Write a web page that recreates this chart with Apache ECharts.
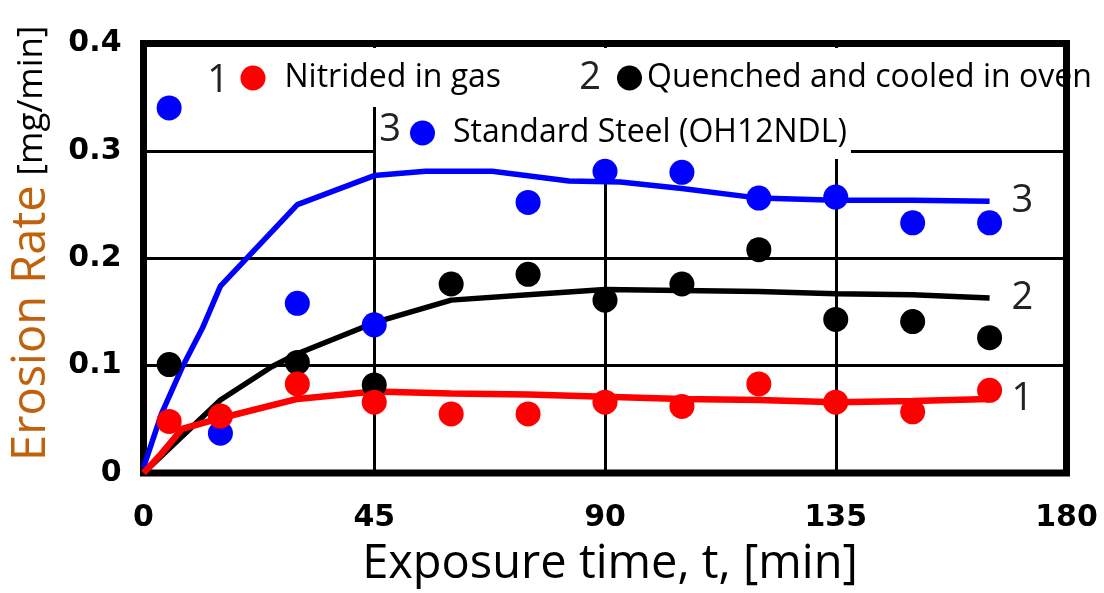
<!DOCTYPE html>
<html><head><meta charset="utf-8">
<script src="https://cdn.jsdelivr.net/npm/echarts@6/dist/echarts.min.js"></script>
<style>html,body{margin:0;padding:0;background:#fff}#c{width:1104px;height:593px}</style>
</head><body><div id="c"></div>
<script>
// ---- data ----
const xTickValues = [0, 45, 90, 135, 180];
const xTickLabels = ['0', '45', '90', '135', '180'];
const yTickValues = [0, 0.1, 0.2, 0.3, 0.4];
const yTickLabels = ['0', '0.1', '0.2', '0.3', '0.4'];
const seriesNames = ['Nitrided in gas', 'Quenched and cooled in oven', 'Standard Steel (OH12NDL)'];
const curveNumbers = ['1', '2', '3'];
const xAxisTitle = 'Exposure time, t, [min]';
const yAxisTitle = 'Erosion Rate';
const yAxisUnit = '[mg/min]';

// measured points [time, erosion rate]
const nitridedPoints = [[5,0.048],[15,0.053],[30,0.083],[45,0.066],[60,0.055],[75,0.055],[90,0.066],[105,0.062],[120,0.083],[135,0.066],[150,0.057],[165,0.077]];
const quenchedPoints = [[5,0.101],[30,0.103],[45,0.082],[60,0.176],[75,0.185],[90,0.161],[105,0.176],[120,0.208],[135,0.143],[150,0.141],[165,0.126]];
const standardPoints = [[5,0.340],[15,0.037],[30,0.158],[45,0.138],[75,0.252],[90,0.281],[105,0.280],[120,0.256],[135,0.257],[150,0.233],[165,0.233]];

// fitted curves
const nitridedFit = [[0,0],[3.5,0.018],[7.5,0.041],[15,0.051],[30,0.069],[45,0.076],[60,0.074],[75,0.073],[90,0.071],[105,0.069],[120,0.068],[135,0.066],[150,0.067],[165,0.069]];
const quenchedFit = [[0,0],[15,0.068],[25,0.099],[30,0.111],[45,0.140],[60,0.161],[75,0.166],[90,0.171],[105,0.170],[120,0.169],[135,0.167],[150,0.166],[165,0.163]];
const standardFit = [[0,0.005],[3.5,0.055],[7.5,0.098],[11.5,0.135],[15,0.174],[30,0.250],[45,0.277],[55,0.281],[68,0.281],[83,0.272],[93,0.271],[105,0.265],[120,0.256],[135,0.254],[150,0.254],[165,0.253]];

// ---- chart ----
const RED = '#ff0000', BLACK = '#000000', BLUE = '#0000ff';
const TXT = 'Open Sans';
const chart = echarts.init(document.getElementById('c'), null, {renderer: 'canvas'});

function fitSeries(data, color, width, num) {
  return {
    type: 'line', data: data, symbol: 'none', silent: true, z: 2,
    lineStyle: {color: color, width: width}, itemStyle: {color: color},
    endLabel: {show: true, formatter: num, distance: 22, fontFamily: TXT, fontSize: 38, color: '#222'}
  };
}
function pointSeries(name, data, color) {
  return {
    type: 'scatter', name: name, data: data, symbol: 'circle', symbolSize: 25, z: 3,
    itemStyle: {color: color, opacity: 1}
  };
}
function legendFor(name, left, top, gap) {
  return {
    data: [name], left: left, top: top, padding: 0, itemWidth: 25, itemHeight: 25,
    icon: 'circle', selectedMode: false,
    textStyle: {fontFamily: TXT, fontSize: 32, color: '#000', padding: [0, 0, 0, gap]}
  };
}

chart.setOption({
  animation: false,
  backgroundColor: '#fff',
  grid: {left: 143.5, right: 37.5, top: 43.5, bottom: 116, show: true, borderColor: '#000', borderWidth: 7},
  xAxis: {
    type: 'value', min: 0, max: 180, interval: 45,
    axisLine: {show: false}, axisTick: {show: false},
    splitLine: {show: true, lineStyle: {color: '#000', width: 3}},
    axisLabel: {
      margin: 30, fontFamily: 'DejaVu Sans', fontWeight: 'bold', fontSize: 30, color: '#000',
      formatter: v => xTickLabels[xTickValues.indexOf(v)]
    },
    name: xAxisTitle, nameLocation: 'middle', nameGap: 68,
    nameTextStyle: {fontFamily: TXT, fontSize: 47, color: '#000', padding: [0, 0, 0, 10]}
  },
  yAxis: {
    type: 'value', min: 0, max: 0.4, interval: 0.1,
    axisLine: {show: false}, axisTick: {show: false},
    splitLine: {show: true, lineStyle: {color: '#000', width: 3}},
    axisLabel: {
      margin: 22, fontFamily: 'DejaVu Sans', fontWeight: 'bold', fontSize: 30, color: '#000',
      formatter: v => yTickLabels[yTickValues.findIndex(t => Math.abs(t - v) < 1e-9)]
    },
    name: '{a|' + yAxisTitle + '}   {b|' + yAxisUnit + '}',
    nameLocation: 'middle', nameRotate: 90, nameGap: 88,
    nameTextStyle: {
      padding: [0, 0, 0, 30],
      rich: {
        a: {fontFamily: TXT, fontSize: 47, color: '#c0620c'},
        b: {fontFamily: TXT, fontSize: 35, color: '#000'}
      }
    }
  },
  legend: [
    legendFor(seriesNames[0], 240.5, 62, 14),
    legendFor(seriesNames[1], 617, 62, 0),
    legendFor(seriesNames[2], 410, 117, 13)
  ],
  graphic: [
    {type: 'rect', z: 1, shape: {x: 148, y: 48, width: 914, height: 59}, style: {fill: '#fff'}},
    {type: 'rect', z: 1, shape: {x: 376, y: 107, width: 475, height: 52}, style: {fill: '#fff'}},
    {type: 'text', z: 5, x: 218, y: 81, style: {text: curveNumbers[0], fontFamily: TXT, fontSize: 38, fill: '#222', align: 'center', verticalAlign: 'middle'}},
    {type: 'text', z: 5, x: 590, y: 78, style: {text: curveNumbers[1], fontFamily: TXT, fontSize: 38, fill: '#222', align: 'center', verticalAlign: 'middle'}},
    {type: 'text', z: 5, x: 390, y: 130, style: {text: curveNumbers[2], fontFamily: TXT, fontSize: 38, fill: '#222', align: 'center', verticalAlign: 'middle'}}
  ],
  series: [
    fitSeries(standardFit, BLUE, 5.5, curveNumbers[2]),
    fitSeries(quenchedFit, BLACK, 5.5, curveNumbers[1]),
    fitSeries(nitridedFit, RED, 6.5, curveNumbers[0]),
    pointSeries(seriesNames[1], quenchedPoints, BLACK),
    pointSeries(seriesNames[2], standardPoints, BLUE),
    pointSeries(seriesNames[0], nitridedPoints, RED)
  ]
});
</script></body></html>
